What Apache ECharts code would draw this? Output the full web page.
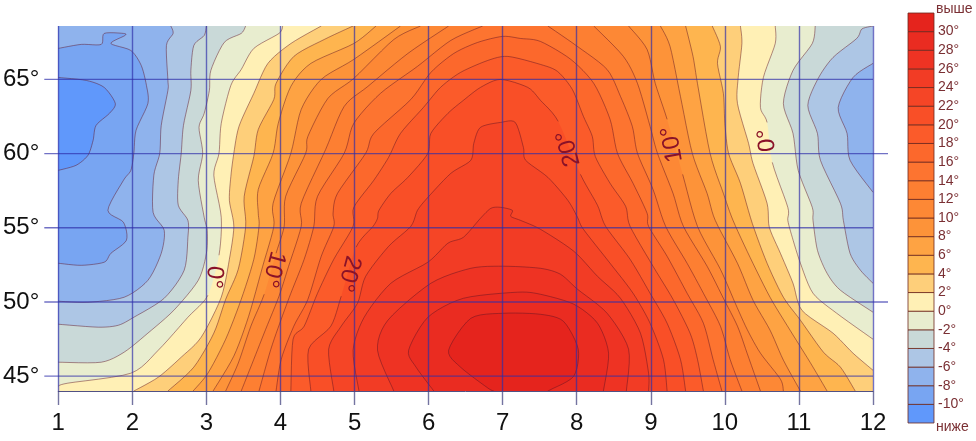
<!DOCTYPE html>
<html><head><meta charset="utf-8">
<style>html,body{margin:0;padding:0;background:#fff}#c{width:976px;height:441px}</style>
<script src="https://cdn.jsdelivr.net/npm/echarts@6/dist/echarts.min.js"></script>
</head><body><div id="c"></div>
<script>
// Axis values
const MONTHS_MIN = 1, MONTHS_MAX = 12;
const LAT_MIN = 44, LAT_MAX = 68.6;
const LAT_TICKS = [45, 50, 55, 60, 65];
const LAT_EXTENDED = [50, 60];
// Isotherm levels and the band colour above each (first colour = "ниже")
const LEVELS = [-10,-8,-6,-4,-2,0,2,4,6,8,10,12,14,16,18,20,22,24,26,28,30];
const BAND_COLORS = ['#6098fb','#78a5f2','#8fb3ed','#adc6e5','#c9d9d8','#e8edcf','#fff0b5','#fecf7a','#feb54f','#fea343','#fd9339','#fd8835','#fd7f32','#fd7430','#fc682c','#fb5b2a','#f94f27','#f54526','#f23c25','#ee3323','#ea2c21','#e5241d'];
// Isotherms: [month, latitude]; null marks a gap where a label sits
const L_m10=[[1,65.13],[1.38,64.93],[1.62,64.46],[1.77,63.38],[1.69,62.71],[1.51,61.9],[1.47,60.89],[1.4,59.88],[1.24,59.21],[1,58.87]];
const R_m10=[];
const L_m8=[[1,67.09],[1.31,67.36],[1.58,67.36],[1.62,68.1],[1.88,68.1],[1.9,67.96],[1.71,67.42],[1.98,66.95],[2.12,65.94],[2.19,64.6],[2.21,63.38],[2.05,61.57],[2.02,60.02],[1.98,58.87],[1.88,58.2],[1.67,56.18],[1.88,55.37],[1.92,54.16],[1.71,53.28],[1.62,52.68],[1.31,52.47],[1,52.61]];
const R_m8=[];
const L_m6=[[2.52,68.6],[2.55,68.1],[2.46,67.29],[2.48,64.93],[2.48,64.26],[2.39,61.9],[2.37,60.02],[2.29,58.54],[2.28,56.04],[2.43,54.83],[2.39,53.28],[2.21,51.46],[1.89,50.32],[1.4,49.98],[1,50.05]];
const R_m6=[[12,66.08],[11.73,65.13],[11.53,63.11],[11.65,61.36],[11.69,59.55],[12,57.39]];
const L_m4=[[3,68.6],[2.97,67.96],[2.83,67.29],[2.79,65.61],[2.79,64.26],[2.69,61.9],[2.66,60.02],[2.62,58.2],[2.62,56.52],[2.75,55.5],[2.75,54.36],[2.7,52.14],[2.43,50.25],[2.02,48.97],[1.81,48.43],[1.54,48.3],[1,48.5]];
const R_m4=[[12,68.6],[11.85,68.4],[11.78,67.76],[11.46,66.48],[11.26,65.07],[11.12,63.25],[11.25,61.36],[11.29,59.55],[11.56,56.65],[11.6,55.5],[11.69,53.28],[11.83,52.14],[12,51.26]];
const L_m2=[[3.53,68.6],[3.47,68.1],[3.24,67.49],[3.06,65.61],[3.04,64.26],[2.97,62.71],[2.9,61.77],[2.95,60.02],[2.89,58.2],[2.97,55.71],[3.01,54.83],[3,53.28],[2.89,51.46],[2.56,49.44],[2.21,47.9],[1.89,46.62],[1.58,45.94],[1,45.94]];
const R_m2=[[11.22,68.6],[11.18,67.42],[10.92,65.61],[10.79,63.38],[10.92,61.36],[10.99,58.87],[11.18,56.38],[11.19,55.5],[11.25,53.48],[11.38,51.93],[11.56,50.79],[12,49.31]];
const L_0=[[4.03,68.6],[3.98,68.1],[3.64,67.09],[3.47,65.67],[3.33,64.6],[3.2,62.04],[3.17,60.02],[3.1,58.54],[3.2,55.71],[3.17,53.15],null,[3.02,50.45],[2.75,48.97],[2.35,46.75],[1.98,45.2],[1.13,44.53],[1,44.33]];
const R_0=[[10.68,68.6],[10.68,67.42],[10.52,65.13],[10.48,63.11],[10.57,62.1],null,[10.64,59.41],[10.85,56.38],[10.85,55.5],[10.91,54.36],[11.02,52.61],[11.19,50.59],[11.51,49.24],[12,47.49]];
const L_2=[[4.55,68.6],[4.14,67.42],[3.83,66.08],[3.64,64.06],[3.44,61.84],[3.37,60.02],[3.33,58.47],[3.31,56.85],[3.37,55.1],[3.31,52.88],[3.2,50.32],[2.93,47.63],[2.66,46.28],[2.35,44.93],[2.02,44]];
const R_2=[[10.21,68.6],[10.23,67.42],[10.18,65.13],[10.17,63.38],[10.32,60.69],[10.38,59.34],[10.57,56.65],[10.6,55.04],[10.75,53.28],[10.92,51.26],[11.04,49.44],[11.46,47.9],[11.73,46.55],[12,45.4]];
const L_4=[[4.98,68.6],[4.59,67.69],[4.18,66.55],[3.94,64.73],[3.91,63.65],[3.7,61.63],[3.64,59.81],[3.51,57.12],[3.53,55.1],[3.43,52.21],[3.26,50.18],[3.1,47.9],[2.83,45.61],[2.48,44]];
const R_4=[[9.83,68.6],[9.94,67.22],[9.9,66.08],[9.98,64.06],[10,62.04],[10.05,60.02],[10.21,58],[10.37,55.3],[10.57,52.61],[10.79,50.32],[11.02,48.77],[11.33,46.62],[11.56,45.61],[11.76,44]];
const L_6=[[5.29,68.6],[4.99,67.42],[4.41,66.08],[4.14,64.53],[3.97,62.04],[3.9,60.02],[3.7,57.59],[3.7,55.98],[3.71,55.1],[3.64,52.88],[3.47,50.18],[3.26,47.49],[3.02,45.2],[2.82,44]];
const R_6=[[9.47,68.6],[9.57,66.55],[9.63,64.73],[9.8,60.02],[9.98,57.32],[10.11,55.5],[10.34,53.01],[10.61,50.32],[10.88,48.1],[11.15,45.94],[11.38,44]];
const L_8=[[5.62,68.6],[4.99,66.35],[4.55,65],[4.28,62.98],[4.14,60.02],[3.9,56.65],[3.91,55.1],[3.76,52.41],[3.57,49.04],[3.37,46.35],[3.09,44]];
const R_8=[[9.13,68.6],[9.26,67.22],[9.4,63.86],[9.56,60.02],[9.76,57.32],[9.87,55.5],[10.17,52.61],[10.38,50.12],[10.61,48.1],[10.79,46.08],[11.02,44]];
const L_10=[[5.89,68.6],[5.53,67.69],[4.99,65.07],[4.64,63.72],[4.37,61.16],[4.34,60.02],[4.07,57.12],[4.05,55.1],[3.94,53.28],null,[3.78,50.52],[3.6,48.37],[3.43,45.88],[3.26,44]];
const R_10=[[8.7,68.6],[8.95,67.02],[9.06,64.73],[9.22,62.31],null,[9.43,58.6],[9.63,55.1],[9.94,52.2],[10.14,49.92],[10.3,48.16],[10.48,46.55],[10.75,44.8],[10.79,44]];
const L_12=[[6.27,68.6],[5.72,66.75],[5.18,64.53],[4.86,63.18],[4.61,60.28],[4.28,56.65],[4.28,55.1],[4.11,52.41],[3.98,50.39],[3.8,48.16],[3.64,46.14],[3.47,44]];
const R_12=[[8.23,68.6],[8.63,66.55],[8.82,64.73],[8.99,61.84],[9.09,60.02],[9.3,57.32],[9.44,55.1],[9.76,52.41],[9.98,50.25],[10.17,48.37],[10.3,46.55],[10.48,44]];
const L_14=[[6.73,68.6],[6.3,67.63],[5.85,65.88],[5.35,64.06],[4.99,62.04],[4.86,60.02],[4.5,57.12],[4.45,55.1],[4.32,52.88],[4.14,50.59],[4.01,48.84],[3.87,46.82],[3.71,44]];
const R_14=[[7.61,68.6],[8.01,67.22],[8.41,65.67],[8.59,63.86],[8.75,61.84],[8.82,60.02],[9.03,57.59],[9.2,55.1],[9.49,52.61],[9.71,50.59],[9.94,48.37],[10.07,46.14],[10.23,44]];
const L_16=[[7,67.9],[6.66,67.49],[6.34,66.75],[6.03,65.47],[5.76,63.65],[5.26,61.36],[5.15,60.02],[4.77,57.32],[4.71,55.98],[4.72,55.1],[4.55,53.08],[4.37,50.18],[4.18,48.37],[4.01,46.14],[3.94,44]];
const R_16=[[7,67.9],[7.24,67.76],[7.51,67.56],[7.92,66.35],[8.23,64.73],[8.45,62.31],[8.55,60.02],[8.76,58],[8.95,55.98],[8.97,55.1],[9.22,53.08],[9.49,50.59],[9.71,48.57],[9.84,46.14],[9.96,44]];
const L_18=[[7.07,66.55],[6.8,66.28],[6.43,65.47],[6.16,64.46],[5.93,63.11],[5.62,61.36],[5.46,59.75],[5.26,58.2],[4.99,56.38],[4.98,55.1],[4.72,52.88],[4.5,50.59],[4.32,48.37],[4.17,47.49],[4.14,44]];
const R_18=[[7.07,66.55],[7.51,66.01],[7.74,65.54],[7.94,64.33],[8.09,62.51],[8.21,61.16],[8.25,59.81],[8.45,58],[8.66,56.45],[8.72,55.1],[9.03,52.41],[9.3,50.18],[9.53,47.9],[9.63,46.14],[9.71,44]];
const L_20=[[6.97,65],[6.7,64.46],[6.47,63.59],[6.26,62.71],[6.03,61.36],[5.99,60.02],[5.72,58.4],[5.49,57.32],[5.33,56.18],[5.31,55.64],[5.25,55.1],[5.02,53.69],null,[4.82,50.39],[4.68,48.37],[4.38,46.82],[4.41,44]];
const R_20=[[6.97,65],[7.34,64.46],[7.51,63.59],[7.75,62.17],null,[8.05,58.6],[8.28,56.52],[8.39,55.1],[8.72,52.88],[8.99,50.59],[9.22,48.57],[9.4,46.14],[9.47,44]];
const L_22=[[6.97,62.1],[6.7,61.77],[6.61,60.69],[6.57,59.55],[6.3,58.67],[5.99,57.05],[5.85,56.18],[5.76,55.1],[5.46,53.75],[5.15,51.73],[5.04,49.92],[4.82,48.37],[4.65,46.82],[4.72,44]];
const R_22=[[6.97,62.1],[7.17,62.1],[7.28,60.42],[7.31,59.55],[7.61,58.4],[7.88,56.85],[8.01,55.71],[8.09,54.9],[8.45,52.61],[8.76,50.59],[8.99,48.57],[9.17,46.14],[9.22,44]];
const L_24=[[6.97,56.38],[6.84,56.31],[6.7,55.64],[6.47,54.36],[6.26,53.96],[5.99,52.68],[5.49,51.26],[5.13,48.97],[4.98,46.75],[5.06,44]];
const R_24=[[6.97,56.38],[7.13,56.18],[7.11,55.77],[7.24,55.5],[7.51,54.9],[7.96,53.42],[8.28,51.73],[8.59,50.25],[8.86,47.9],[8.97,45.2],[8.97,44]];
const L_26=[[7.01,52.41],[6.57,52.27],[6.03,51.26],[5.45,48.77],[5.31,46.75],[5.53,44]];
const R_26=[[7.01,52.41],[7.51,52.27],[7.78,51.87],[8.01,50.86],[8.41,49.24],[8.7,46.82],[8.67,44]];
const L_28=[[7.2,50.66],[6.47,50.25],[5.99,48.97],[5.73,46.75],[5.83,45.61],[6.07,44]];
const R_28=[[7.2,50.66],[7.51,50.52],[7.96,49.85],[8.28,48.57],[8.43,46.55],[8.36,44]];
const L_30=[[7.01,49.24],[6.57,48.9],[6.27,46.75],[6.43,45.61],[6.8,44.2],[6.88,44]];
const R_30=[[7.01,49.24],[7.51,49.17],[7.82,48.7],[8.02,46.82],[7.96,45],[7.65,44.1],[7.61,44]];
const ISO_LEFT=[L_m10,L_m8,L_m6,L_m4,L_m2,L_0,L_2,L_4,L_6,L_8,L_10,L_12,L_14,L_16,L_18,L_20,L_22,L_24,L_26,L_28,L_30];
const ISO_RIGHT=[R_m10,R_m8,R_m6,R_m4,R_m2,R_0,R_2,R_4,R_6,R_8,R_10,R_12,R_14,R_16,R_18,R_20,R_22,R_24,R_26,R_28,R_30];
// Labels on the isotherms
const LABEL_TEXT=['0°','10°','20°','20°','10°','0°'];
const LABEL_MONTH=[3.1,3.9,4.92,7.89,9.29,10.57];
const LABEL_LAT=[51.67,52.2,51.9,60.35,60.62,60.89];
const LABEL_ANGLE=[-95,-105,-105,105,100,95];
// Colour scale
const SCALE_LOWS=[-12,-10,-8,-6,-4,-2,0,2,4,6,8,10,12,14,16,18,20,22,24,26,28,30];

const FONT='"Liberation Sans", Arial, sans-serif';
const LINE='rgba(95,20,35,0.6)';
const GRIDC='rgba(45,45,170,0.68)';

function spline(px){
  // render-time curve through the read points, one list per segment
  const n=px.length,segs=[];
  for(let i=0;i<n-1;i++){
    const a=px[i-1]||px[i],b=px[i],c=px[i+1],d=px[i+2]||c,s=[];
    for(let k=0;k<=6;k++){
      const t=k/6,t2=t*t,t3=t2*t,T=0.4;
      const h1=2*t3-3*t2+1,h2=t3-2*t2+t,h3=-2*t3+3*t2,h4=t3-t2;
      s.push([h1*b[0]+h2*T*(c[0]-a[0])+h3*c[0]+h4*T*(d[0]-b[0]),
              h1*b[1]+h2*T*(c[1]-a[1])+h3*c[1]+h4*T*(d[1]-b[1])]);
    }
    segs.push(s);
  }
  return segs;
}
function trace(list,api){
  const clean=[],gaps=new Set();
  list.forEach(p=>{ if(p===null) gaps.add(clean.length-1); else clean.push(api.coord(p)); });
  const segs=spline(clean);
  const all=[],runs=[];let run=[];
  segs.forEach((s,i)=>{
    all.push(...s);
    if(gaps.has(i)){ if(run.length) runs.push(run); run=[]; }
    else run.push(...s);
  });
  if(run.length) runs.push(run);
  return {all,runs};
}
function renderIso(params,api){
  const i=api.value(0),L=ISO_LEFT[i],R=ISO_RIGHT[i];
  const kids=[];
  const c=p=>api.coord(p);
  if(i===0){
    kids.push({type:'polygon',shape:{points:[c([1,LAT_MIN]),c([12,LAT_MIN]),c([12,LAT_MAX]),c([1,LAT_MAX])]},style:{fill:BAND_COLORS[0]}});
  }
  const peak=R.length&&L[0][0]===R[0][0]&&L[0][1]===R[0][1];
  let ring=[],lines=[];
  if(peak){
    const t=trace(L.slice().reverse().concat(R.slice(1)),api);
    ring=t.all;lines=t.runs;
  }else{
    const tl=trace(L,api);
    if(L[0][0]===1) ring.push(c([1,LAT_MAX]));
    ring.push(...tl.all);lines.push(...tl.runs);
    if(L[L.length-1][0]===1) ring.push(c([1,LAT_MIN]));
    if(R.length){
      const tr=trace(R,api);
      if(R[R.length-1][0]===12) ring.push(c([12,LAT_MIN]));
      ring.push(...tr.all.slice().reverse());lines.push(...tr.runs);
      if(R[0][0]===12) ring.push(c([12,LAT_MAX]));
    }else{
      ring.push(c([12,LAT_MIN]),c([12,LAT_MAX]));
    }
  }
  kids.push({type:'polygon',shape:{points:ring},style:{fill:BAND_COLORS[i+1]}});
  lines.forEach(r=>kids.push({type:'polyline',shape:{points:r},style:{stroke:LINE,lineWidth:0.8,fill:null}}));
  return {type:'group',children:kids};
}
function renderLat(params,api){
  const lat=api.value(0);
  const a=api.coord([1,lat]),b=api.coord([12,lat]);
  const ext=LAT_EXTENDED.indexOf(lat)>=0?15:0;
  return {type:'line',shape:{x1:a[0]-14,y1:a[1],x2:b[0]+ext,y2:b[1]},style:{stroke:GRIDC,lineWidth:1.4}};
}
function renderLabel(params,api){
  const i=api.value(0),p=api.coord([LABEL_MONTH[i],LABEL_LAT[i]]);
  return {type:'text',x:p[0],y:p[1],rotation:LABEL_ANGLE[i]*Math.PI/180,
    style:{text:LABEL_TEXT[i],fill:'#8a1228',font:'24px '+FONT,textAlign:'center',textVerticalAlign:'middle'}};
}
function renderScale(params,api){
  const i=api.value(0),lo=SCALE_LOWS[i];
  const a=api.coord([0,lo]),b=api.coord([1,lo+2]);
  return {type:'rect',shape:{x:a[0],y:b[1],width:b[0]-a[0],height:a[1]-b[1]},
    style:{fill:BAND_COLORS[i],stroke:'rgba(110,40,30,0.8)',lineWidth:1}};
}
const chart=echarts.init(document.getElementById('c'),null,{renderer:'canvas'});
chart.setOption({
  animation:false,backgroundColor:'#fff',tooltip:{show:false},
  grid:[{left:57,top:26,width:816,height:365},{left:908,top:13,width:26,height:410}],
  xAxis:[
    {type:'value',gridIndex:0,min:MONTHS_MIN,max:MONTHS_MAX,interval:1,z:5,
     axisLine:{show:true,onZero:false,lineStyle:{color:'rgba(50,50,110,0.85)',width:1}},
     axisTick:{show:true,length:14,lineStyle:{color:'rgba(70,70,130,0.75)',width:1.4}},
     splitLine:{show:true,lineStyle:{color:GRIDC,width:1.4}},
     axisLabel:{color:'#111',fontFamily:'Liberation Sans',fontSize:24,margin:20}},
    {type:'value',gridIndex:1,min:0,max:1,show:false}
  ],
  yAxis:[
    {type:'value',gridIndex:0,min:LAT_MIN,max:LAT_MAX,
     axisLine:{show:false},axisTick:{show:false},splitLine:{show:false},
     axisLabel:{color:'#111',fontFamily:'Liberation Sans',fontSize:24,margin:19,
       customValues:LAT_TICKS,formatter:v=>v+'°'}},
    {type:'value',gridIndex:1,min:-12,max:32,interval:2,position:'right',
     axisLine:{show:false},axisTick:{show:false},splitLine:{show:false},
     axisLabel:{color:'#7a2f33',fontFamily:'Liberation Sans',fontSize:14,margin:4,
       formatter:v=>(v===-12||v===32)?'':v+'°'}}
  ],
  graphic:[
    {type:'text',left:936,top:2,style:{text:'выше',fill:'#7a2f33',font:'14px '+FONT}},
    {type:'text',left:936,top:420,style:{text:'ниже',fill:'#7a2f33',font:'14px '+FONT}}
  ],
  series:[
    {type:'custom',name:'isotherms',xAxisIndex:0,yAxisIndex:0,clip:true,silent:true,z:2,
     data:LEVELS.map((l,i)=>[i]),encode:{x:-1,y:-1},renderItem:renderIso},
    {type:'custom',name:'latitudes',xAxisIndex:0,yAxisIndex:0,clip:false,silent:true,z:6,
     data:LAT_TICKS.map(v=>[v]),encode:{x:-1,y:-1},renderItem:renderLat},
    {type:'custom',name:'labels',xAxisIndex:0,yAxisIndex:0,clip:false,silent:true,z:7,
     data:LABEL_TEXT.map((t,i)=>[i]),encode:{x:-1,y:-1},renderItem:renderLabel},
    {type:'custom',name:'scale',xAxisIndex:1,yAxisIndex:1,clip:false,silent:true,z:2,
     data:SCALE_LOWS.map((v,i)=>[i]),encode:{x:-1,y:-1},renderItem:renderScale}
  ]
});
</script></body></html>
